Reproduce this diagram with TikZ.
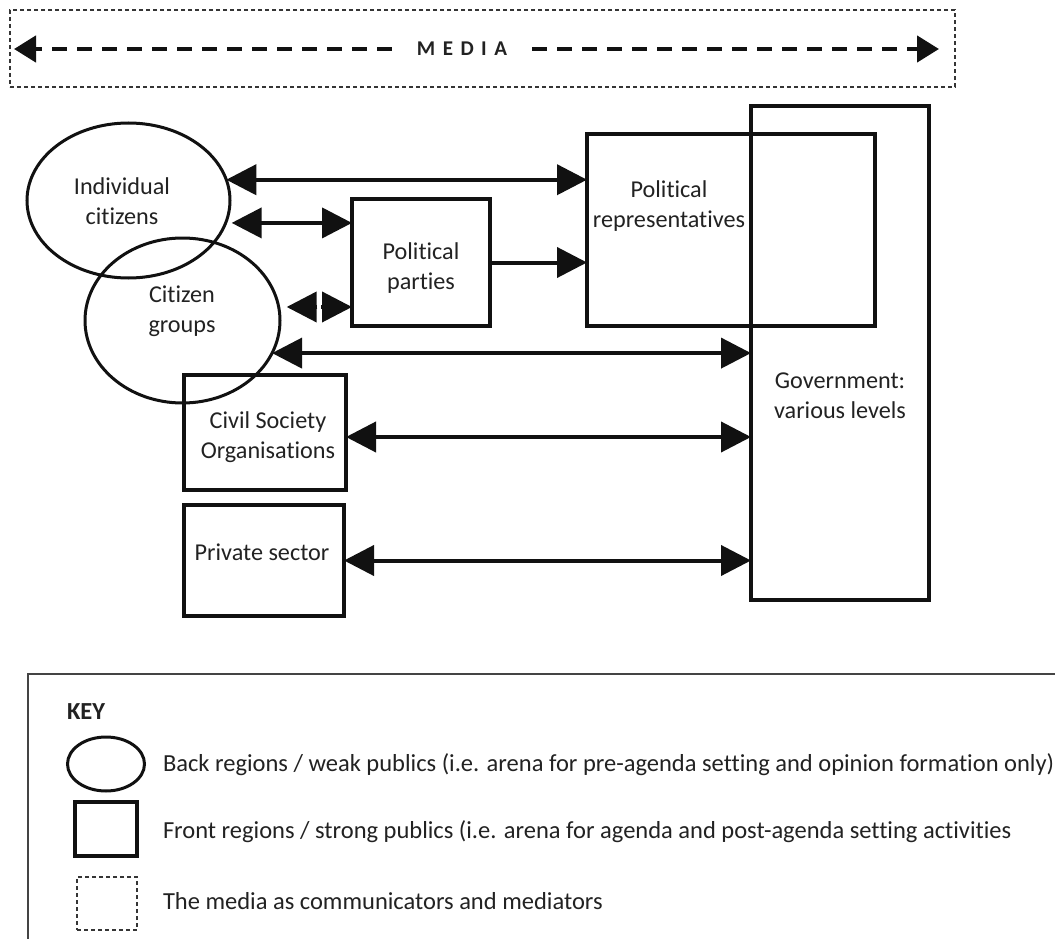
\documentclass[tikz,border=0pt]{standalone}
\usepackage{fontspec}
\setmainfont{Carlito}[Ligatures=NoCommon]
\usetikzlibrary{arrows.meta,shapes.geometric,calc}
\definecolor{ink}{HTML}{111111}
\definecolor{txt}{HTML}{222222}
\definecolor{frame}{HTML}{444444}
\begin{document}
\begin{tikzpicture}[x=1pt,y=-1pt,
  every node/.style={inner sep=0pt, outer sep=0pt},
  lbl/.style={font=\fontsize{24.2}{30}\selectfont, text=txt, align=center},
  keytext/.style={font=\fontsize{24.5}{30}\selectfont, text=txt, anchor=base west},
  region/.style={rectangle, draw=ink, line width=3.5pt},
  weak/.style={ellipse, draw=ink, line width=3pt},
  mediabox/.style={rectangle, draw=ink!85, line width=1.5pt, dash pattern=on 4pt off 3pt},
  link/.style={draw=ink, line width=4pt,
    {Triangle[length=30pt,width=30pt]}-{Triangle[length=30pt,width=30pt]}},
  oneway/.style={draw=ink, line width=4pt, -{Triangle[length=30pt,width=30pt]}},
  mediaarrow/.style={draw=ink, line width=4.5pt, dash pattern=on 15pt off 10pt,
    -{Triangle[length=22pt,width=26pt]}},
]
\useasboundingbox (0,0) rectangle (1055,939);
\clip (0,0) rectangle (1055,939);
\fill[white] (0,0) rectangle (1055,939);

% media band
\node[mediabox, minimum width=945pt, minimum height=77pt] (mbox) at (482.5,48.5) {};
\node[font=\fontsize{21}{21}\selectfont\bfseries, text=txt, inner xsep=25pt] (media) at (462,49)
  {M\hspace{7.5pt}E\hspace{7.5pt}D\hspace{7.5pt}I\hspace{7.5pt}A};
\coordinate (mL) at (14,49);
\coordinate (mR) at (939,49);
\draw[mediaarrow] (media.west) -- (mL);
\draw[mediaarrow] (media.east) -- (mR);

% weak publics
\node[weak, minimum width=203pt, minimum height=155pt] (ic) at (128.5,200.5) {};
\node[weak, minimum width=195pt, minimum height=165pt] (cg) at (182.5,320.5) {};
\node[lbl] (ic-t) at (122,201) {Individual\\citizens};
\node[lbl] (cg-t) at (182,311.5) {Citizen\\groups};

% strong publics
\node[region, minimum width=138pt, minimum height=127pt] (pp) at (421,262.5) {};
\node[region, minimum width=288pt, minimum height=192pt] (pr) at (731,230) {};
\node[region, minimum width=178pt, minimum height=494pt] (gov) at (840,353) {};
\node[region, minimum width=162pt, minimum height=115pt] (cso) at (265,432.5) {};
\node[region, minimum width=160pt, minimum height=111pt] (ps) at (264,560.5) {};
\node[lbl] (pp-t) at (421,268) {Political\\parties};
\node[lbl] (pr-t) at (669,206) {Political\\representatives};
\node[lbl] (gov-t) at (840,396) {Government:\\various levels};
\node[lbl] (cso-t) at (268,437) {Civil Society\\Organisations};
\node[lbl] (ps-t) at (262,552) {Private sector};

% connectors
\draw[link] (ic.12) -- (ic.12 -| pr.west);
\coordinate (a2) at ([xshift=6pt]ic.-13);
\draw[link] (a2) -- (a2 -| pp.west);
% two heads meeting back to back, split by a thin gap
\coordinate (a3) at ([xshift=8pt]cg.8);
\coordinate (b3) at (a3 -| pp.west);
\coordinate (m3) at ($(a3)!0.5!(b3)$);
\draw[oneway] ([xshift=-2pt]m3) -- (a3);
\draw[oneway] ([xshift=2pt]m3) -- (b3);
\draw[oneway] (pp.east) -- (pp.east -| pr.west);
\draw[link] (cg.-20) -- (cg.-20 -| gov.west);
\coordinate (a6) at ([yshift=-4.5pt]cso.east);
\draw[link] (a6) -- (a6 -| gov.west);
\draw[link] (ps.east) -- (ps.east -| gov.west);

% key
\coordinate (kTR) at (1065,674);
\coordinate (kTL) at (28,674);
\coordinate (kBL) at (28,950);
\draw[draw=frame, line width=2pt] (kTR) -- (kTL) -- (kBL);
\node[font=\fontsize{24.5}{30}\selectfont\bfseries, text=txt, anchor=base west] (keyt) at (67,719) {KEY};
\node[weak, minimum width=77pt, minimum height=54pt] (kw) at (106,764) {};
\node[region, minimum width=62pt, minimum height=54pt] (ks) at (106,829) {};
\node[mediabox, minimum width=60pt, minimum height=53pt] (km) at (107,903.5) {};
\node[keytext] (kw-t) at (163,771) {Back regions / weak publics (i.e. arena for pre-agenda setting and opinion formation only)};
\node[keytext] (ks-t) at (163,838) {Front regions / strong publics (i.e. arena for agenda and post-agenda setting activities};
\node[keytext] (km-t) at (163,909) {The media as communicators and mediators};
\end{tikzpicture}
\end{document}
